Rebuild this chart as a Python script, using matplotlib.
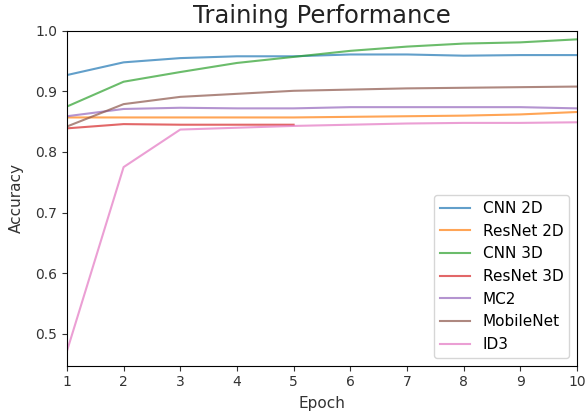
import matplotlib
matplotlib.use("Agg")
import matplotlib.pyplot as plt

#accuracy per epoch
epochs = [1, 2, 3, 4, 5, 6, 7, 8, 9, 10]
cnn_2d = [0.927, 0.948, 0.955, 0.958, 0.958, 0.961, 0.961, 0.959, 0.960, 0.960]
resnet_2d = [0.857, 0.857, 0.857, 0.857, 0.857, 0.858, 0.859, 0.860, 0.862, 0.866]
cnn_3d = [0.875, 0.916, 0.932, 0.947, 0.957, 0.967, 0.974, 0.979, 0.981, 0.986]
resnet_3d = [0.839, 0.846, 0.845, 0.845, 0.845]
mc2 = [0.859, 0.871, 0.873, 0.872, 0.872, 0.874, 0.874, 0.874, 0.874, 0.872]
mobilenet = [0.842, 0.879, 0.891, 0.896, 0.901, 0.903, 0.905, 0.906, 0.907, 0.908]
id3 = [0.471, 0.775, 0.837, 0.840, 0.843, 0.845, 0.847, 0.848, 0.848, 0.849]

series = [("CNN 2D", cnn_2d), ("ResNet 2D", resnet_2d), ("CNN 3D", cnn_3d),
	("ResNet 3D", resnet_3d), ("MC2", mc2), ("MobileNet", mobilenet), ("ID3", id3)]

fig = plt.figure(figsize=(5.87, 4.17), dpi=100)
ax = fig.add_axes([0.114, 0.123, 0.869, 0.803])

for name, acc in series:
	ax.plot(epochs[:len(acc)], acc, label=name, alpha=0.7)

ax.set_xlim(1, 10)
ax.set_ylim(0.447, 1.0)
ax.set_xticks(epochs)
ax.tick_params(labelsize=10, colors="#333333", labelcolor="#333333")
ax.set_title("Training Performance", fontsize=17.5, color="#222222")
ax.set_xlabel("Epoch", fontsize=11, color="#333333", labelpad=5)
ax.set_ylabel("Accuracy", fontsize=11, color="#333333", labelpad=8)
ax.legend(loc="lower right", fontsize=11)

fig.savefig("out.png", dpi=100)
